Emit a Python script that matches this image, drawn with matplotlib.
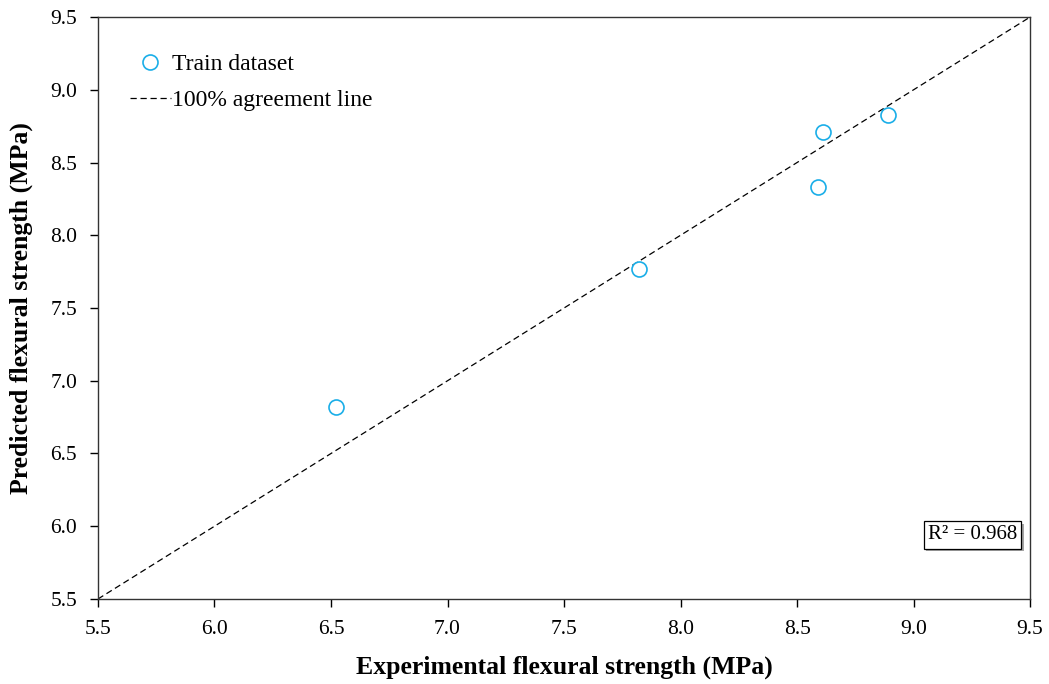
import matplotlib
matplotlib.use("Agg")
import matplotlib.pyplot as plt
import matplotlib.patheffects as pe

plt.rcParams['font.family'] = ['Liberation Serif', 'DejaVu Serif']

# Experimental vs predicted flexural strength (MPa)
experimental = [6.52, 7.82, 8.59, 8.61, 8.89]
predicted = [6.82, 7.77, 8.33, 8.71, 8.83]
r2_text = "R² = 0.968"
ticks = [5.5, 6.0, 6.5, 7.0, 7.5, 8.0, 8.5, 9.0, 9.5]
lims = (5.5, 9.5)

fig = plt.figure(figsize=(10.49, 6.84), dpi=100)
ax = fig.add_axes([0.0934, 0.1243, 0.8886, 0.8508])

ax.plot(experimental, predicted, linestyle='none', marker='o', markersize=10.8,
        markerfacecolor='white', markeredgecolor='#1AAEE8', markeredgewidth=1.2,
        label='Train dataset', zorder=3)
ax.plot(lims, lims, linestyle=(0, (5, 3)), color='black', linewidth=0.9,
        label='100% agreement line', zorder=2)

ax.set_xlim(*lims)
ax.set_ylim(*lims)
ax.set_xticks(ticks)
ax.set_yticks(ticks)
ax.set_xticklabels([f"{t:.1f}" for t in ticks])
ax.set_yticklabels([f"{t:.1f}" for t in ticks])
ax.tick_params(direction='out', length=6, width=1, labelsize=15.5, colors='black',
               top=False, right=False, pad=9)
for s in ax.spines.values():
    s.set_linewidth(1.0)
    s.set_color('#333333')

ax.set_xlabel('Experimental flexural strength (MPa)', fontsize=18.5, fontweight='bold', labelpad=12)
ax.set_ylabel('Predicted flexural strength (MPa)', fontsize=18.5, fontweight='bold', labelpad=12)

leg = ax.legend(loc='upper left', bbox_to_anchor=(0.034, 0.937), frameon=False,
                borderpad=0, borderaxespad=0,
                fontsize=17, handlelength=1.75, handletextpad=0.05, labelspacing=0.62)

ax.text(0.986, 0.11, r2_text, transform=ax.transAxes, ha='right', va='center',
        fontsize=15,
        bbox=dict(boxstyle='square,pad=0.2', facecolor='white', edgecolor='black',
                  linewidth=0.9,
                  path_effects=[pe.SimplePatchShadow(offset=(2, -2), alpha=0.5),
                                pe.Normal()]))

fig.savefig('out.png', dpi=100)
